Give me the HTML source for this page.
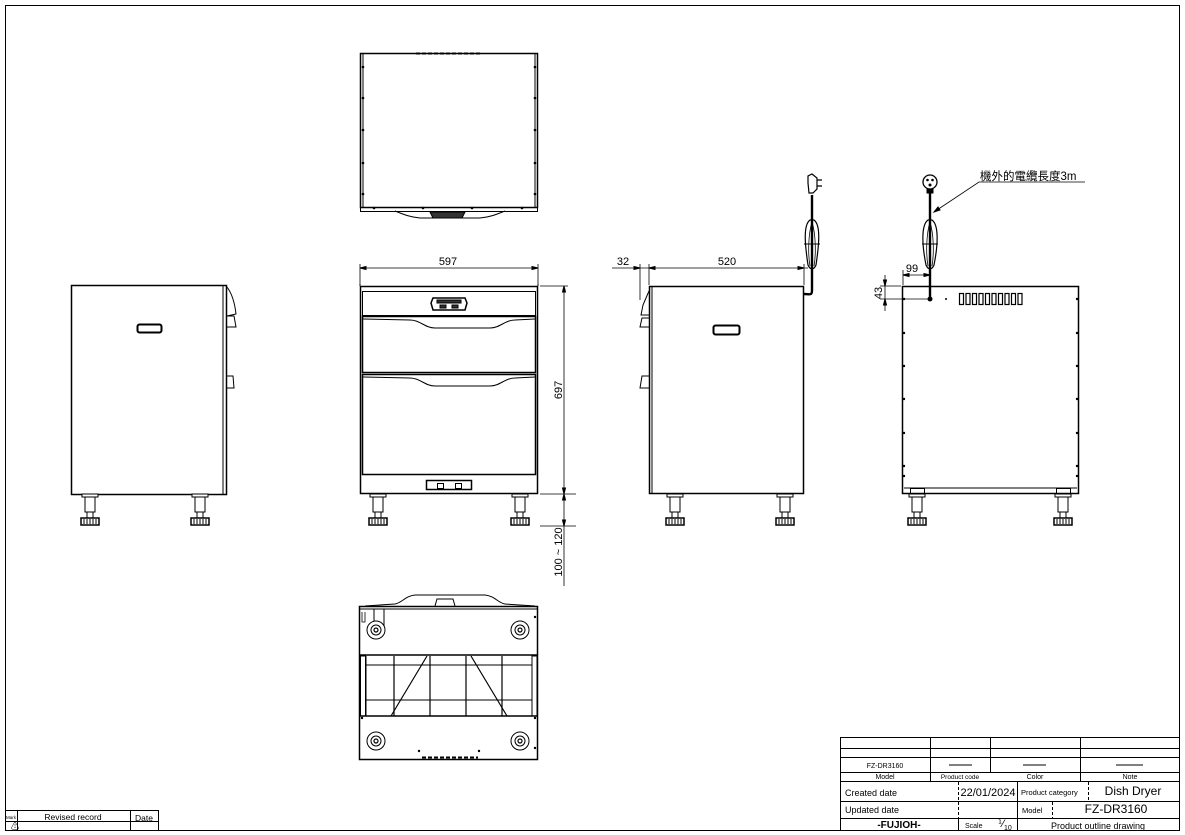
<!DOCTYPE html>
<html><head><meta charset="utf-8"><style>
html,body{margin:0;padding:0;background:#fff;}
svg{display:block;}
text{font-family:"Liberation Sans","Noto Sans CJK TC",sans-serif;fill:#000;}
</style></head><body>
<svg width="1185" height="835" viewBox="0 0 1185 835" xmlns="http://www.w3.org/2000/svg">
<defs>
<g id="leg">
  <rect x="-8" y="0" width="16" height="3" fill="#fff" stroke="#000" stroke-width="1"/>
  <rect x="-5" y="3" width="10" height="15" fill="#fff" stroke="#000" stroke-width="1"/>
  <rect x="-3" y="18" width="6" height="6" fill="#fff" stroke="#000" stroke-width="1"/>
  <rect x="-9" y="24" width="18" height="7" fill="#fff" stroke="#000" stroke-width="1.5"/>
  <path d="M-6 25v5M-3 25v5M0 25v5M3 25v5M6 25v5" stroke="#000" stroke-width="1"/>
</g>
<g id="caster">
  <circle r="9" fill="#fff" stroke="#000" stroke-width="1"/>
  <circle r="5" fill="none" stroke="#000" stroke-width="1"/>
  <circle r="2" fill="none" stroke="#000" stroke-width="1.2"/>
</g>
</defs>
<g fill="none" stroke="#000" stroke-width="1">
<!-- frame -->
<rect x="5.5" y="5.5" width="1174" height="825"/>

<!-- TOP VIEW -->
<rect x="360.5" y="53.5" width="177" height="154" stroke-width="1.5"/>
<line x1="363" y1="54" x2="363" y2="207"/><line x1="535" y1="54" x2="535" y2="207"/>
<line x1="416" y1="53.5" x2="480" y2="53.5" stroke-width="2" stroke-dasharray="4,2"/>
<rect x="360.5" y="207.5" width="177" height="4"/>
<path d="M395 211 C405 215,410 217,420 218 L480 218 C490 217,495 215,505 211"/>
<path d="M430 212 L465 212 L462 218 L433 218 Z" fill="#333"/>
<g fill="#000" stroke="none">
<circle cx="363" cy="67" r="1.3"/><circle cx="363" cy="98" r="1.3"/><circle cx="363" cy="130" r="1.3"/><circle cx="363" cy="163" r="1.3"/><circle cx="363" cy="194" r="1.3"/>
<circle cx="535" cy="67" r="1.3"/><circle cx="535" cy="98" r="1.3"/><circle cx="535" cy="130" r="1.3"/><circle cx="535" cy="163" r="1.3"/><circle cx="535" cy="194" r="1.3"/>
<circle cx="374" cy="208" r="1.3"/><circle cx="423" cy="208" r="1.3"/><circle cx="472" cy="208" r="1.3"/><circle cx="522" cy="208" r="1.3"/>
</g>

<!-- LEFT VIEW -->
<rect x="71.5" y="285.5" width="155" height="209" stroke-width="1.5"/>
<line x1="223" y1="286" x2="223" y2="494"/>
<path d="M227 287 C233 295,235 305,236 314 L227 316"/>
<path d="M227 316 L234 316 L236 327 L227 327"/>
<path d="M227 376 L233 376 L234 388 L227 388"/>
<rect x="137.5" y="324.5" width="24" height="8" rx="2" stroke-width="2"/>
<use href="#leg" x="90" y="494"/><use href="#leg" x="200" y="494"/>

<!-- FRONT VIEW -->
<rect x="360.5" y="286.5" width="177" height="207" stroke-width="1.5"/>
<line x1="360" y1="284" x2="360" y2="286"/><line x1="538" y1="284" x2="538" y2="286"/>
<rect x="362.5" y="291.5" width="173" height="24"/>
<rect x="362.5" y="316.5" width="173" height="56" stroke-width="1.5"/>
<path d="M363 319 L410 320 C420 320,425 328,435 328 L490 328 C500 328,505 320,515 320 L535 319"/>
<rect x="362.5" y="374.5" width="173" height="100" stroke-width="1.5"/>
<path d="M363 377 L410 378 C420 378,425 386,435 386 L490 386 C500 386,505 378,515 378 L535 377"/>
<path d="M433 298 L465 298 L467 303 L465 310 L433 310 L431 303 Z" stroke-width="1.5"/>
<rect x="437" y="300" width="24" height="3" fill="#333"/>
<rect x="440" y="305" width="6" height="3" fill="#333"/><rect x="452" y="305" width="6" height="3" fill="#333"/>
<rect x="426.5" y="480.5" width="45" height="9" stroke-width="1.5"/>
<rect x="437.5" y="483.5" width="6" height="5"/><rect x="455.5" y="483.5" width="6" height="5"/>
<use href="#leg" x="378" y="494"/><use href="#leg" x="520" y="494"/>
<!-- front dims -->
<line x1="360" y1="268" x2="538" y2="268" stroke-width="0.8"/>
<path d="M360 268 l6 -1.5 v3 z M538 268 l-6 -1.5 v3 z" fill="#000"/>
<line x1="360" y1="264" x2="360" y2="285" stroke-width="0.8"/><line x1="538" y1="264" x2="538" y2="285" stroke-width="0.8"/>
<line x1="540" y1="286" x2="568" y2="286" stroke-width="0.8"/>
<line x1="540" y1="494" x2="576" y2="494" stroke-width="0.8"/>
<line x1="540" y1="526" x2="576" y2="526" stroke-width="0.8"/>
<line x1="564" y1="286" x2="564" y2="494" stroke-width="0.8"/>
<line x1="564" y1="494" x2="564" y2="586" stroke-width="0.8"/>
<path d="M564 286 l-1.5 6 h3 z M564 494 l-1.5 -6 h3 z M564 494 l-1.5 6 h3z M564 526 l-1.5 -6 h3 z" fill="#000"/>

<!-- SIDE VIEW -->
<rect x="649.5" y="286.5" width="154" height="207" stroke-width="1.5"/>
<line x1="652" y1="287" x2="652" y2="493"/>
<path d="M649 291 L643 305 L641 315 L649 315"/>
<path d="M649 318 L642 318 L640 327 L649 327"/>
<path d="M649 376 L642 376 L640 388 L649 388"/>
<rect x="713.5" y="325.5" width="26" height="9" rx="2" stroke-width="2"/>
<use href="#leg" x="675" y="494"/><use href="#leg" x="785" y="494"/>
<!-- cord side -->
<path d="M804 294 C810 294,812 296,812 290 L812 195" stroke-width="2.4"/>
<path d="M812 195 L812 195" stroke-width="0.8"/>
<path d="M810 220 C803 225,805 245,808 265 C810 270,814 270,816 265 C819 245,821 225,814 220 Z" stroke-width="1.2"/>
<path d="M812 222 C808 235,808 255,810 266 M812 222 C816 235,816 255,814 266" stroke-width="0.8"/>
<line x1="804" y1="244" x2="820" y2="244"/>
<path d="M808 183 L808 176 L812 174 L817 178 L817 189 L813 193 L809 193 Z" stroke-width="1.2"/>
<path d="M817 180 h5 M817 186 h5" stroke-width="1.2"/>
<!-- side dims -->
<line x1="612" y1="268" x2="808" y2="268" stroke-width="0.8"/>
<line x1="640" y1="264" x2="640" y2="300" stroke-width="0.8"/>
<line x1="649" y1="264" x2="649" y2="285" stroke-width="0.8"/>
<line x1="804" y1="264" x2="804" y2="285" stroke-width="0.8"/>
<path d="M640 268 l-6 -1.5 v3 z M649 268 l6 -1.5 v3 z M804 268 l-6 -1.5 v3 z" fill="#000"/>

<!-- BACK VIEW -->
<rect x="902.5" y="286.5" width="176" height="207" stroke-width="1.5"/>
<line x1="904" y1="488" x2="1077" y2="488"/>
<g fill="none" stroke-width="1.2">
<rect x="959.5" y="293.5" width="4" height="11"/><rect x="966" y="293.5" width="4" height="11"/><rect x="972.5" y="293.5" width="4" height="11"/><rect x="979" y="293.5" width="4" height="11"/><rect x="985.5" y="293.5" width="4" height="11"/><rect x="992" y="293.5" width="4" height="11"/><rect x="998.5" y="293.5" width="4" height="11"/><rect x="1005" y="293.5" width="4" height="11"/><rect x="1011.5" y="293.5" width="4" height="11"/><rect x="1018" y="293.5" width="4" height="11"/>
</g>
<g fill="#000" stroke="none">
<circle cx="930" cy="299" r="2.5"/><circle cx="946" cy="299" r="1"/>
<circle cx="904" cy="299" r="1.2"/><circle cx="904" cy="333" r="1.2"/><circle cx="904" cy="366" r="1.2"/><circle cx="904" cy="399" r="1.2"/><circle cx="904" cy="433" r="1.2"/><circle cx="904" cy="466" r="1.2"/><circle cx="904" cy="476" r="1.2"/>
<circle cx="1077" cy="299" r="1.2"/><circle cx="1077" cy="333" r="1.2"/><circle cx="1077" cy="366" r="1.2"/><circle cx="1077" cy="399" r="1.2"/><circle cx="1077" cy="433" r="1.2"/><circle cx="1077" cy="466" r="1.2"/><circle cx="1077" cy="476" r="1.2"/>
</g>
<rect x="910.5" y="488.5" width="14" height="6"/><rect x="1056.5" y="488.5" width="14" height="6"/>
<use href="#leg" x="917" y="494"/><use href="#leg" x="1063" y="494"/>
<!-- back cord -->
<line x1="930" y1="190" x2="930" y2="298" stroke-width="2.4"/>
<path d="M928 220 C921 225,922 245,926 265 C928 270,932 270,934 265 C938 245,939 225,932 220 Z" stroke-width="1.2"/>
<path d="M930 222 C926 235,926 255,928 266 M930 222 C934 235,934 255,932 266" stroke-width="0.8"/>
<line x1="922" y1="244" x2="938" y2="244"/>
<circle cx="930" cy="182" r="7" stroke-width="1.3"/>
<rect x="927" y="189" width="6" height="4" fill="#000"/>
<circle cx="927.5" cy="180" r="0.8" fill="#000"/><circle cx="932.5" cy="180" r="0.8" fill="#000"/><circle cx="930" cy="185" r="1" fill="#000"/>
<path d="M1085 182 L979 182 L934 212" stroke-width="0.8"/>
<path d="M934 212 l4 -5 l2 3 z" fill="#000"/>
<!-- back dims -->
<line x1="903" y1="275" x2="930" y2="275" stroke-width="0.8"/>
<line x1="903" y1="270" x2="903" y2="285" stroke-width="0.8"/>
<path d="M903 275 l6 -1.5 v3 z M930 275 l-6 -1.5 v3 z" fill="#000"/>
<line x1="880" y1="286" x2="901" y2="286" stroke-width="0.8"/>
<line x1="880" y1="299" x2="928" y2="299" stroke-width="0.8"/>
<line x1="885" y1="275" x2="885" y2="311" stroke-width="0.8"/>
<path d="M885 286 l-1.5 -6 h3 z M885 299 l-1.5 6 h3 z" fill="#000"/>

<!-- BOTTOM VIEW -->
<rect x="359.5" y="606.5" width="178" height="153" stroke-width="1.5"/>
<path d="M365 606 L395 604 C402 603,405 596,415 595 L485 595 C495 596,498 603,505 604 L535 606"/>
<path d="M435 606 L437 599 L453 599 L455 606"/>
<line x1="360" y1="609" x2="537" y2="609"/>
<path d="M362 612 v10 h3 v-10" stroke-width="0.8"/>
<line x1="374" y1="609" x2="374" y2="627"/><line x1="384" y1="609" x2="384" y2="627"/>
<use href="#caster" x="376" y="630"/><use href="#caster" x="520" y="630"/>
<use href="#caster" x="376" y="741"/><use href="#caster" x="520" y="741"/>
<line x1="360" y1="655" x2="537" y2="655" stroke-width="1.5"/>
<line x1="360" y1="716" x2="537" y2="716" stroke-width="1.5"/>
<line x1="366" y1="665" x2="532" y2="665"/><line x1="366" y1="700" x2="532" y2="700"/>
<rect x="360.5" y="656" width="5" height="60"/><rect x="532" y="656" width="5" height="60"/>
<line x1="366" y1="656" x2="366" y2="716"/><line x1="532" y1="656" x2="532" y2="716"/>
<line x1="394" y1="656" x2="394" y2="716" stroke-width="1.2"/>
<line x1="430" y1="656" x2="430" y2="716" stroke-width="1.2"/>
<line x1="466" y1="656" x2="466" y2="716" stroke-width="1.2"/>
<line x1="502" y1="656" x2="502" y2="716" stroke-width="1.2"/>
<line x1="427" y1="656" x2="391" y2="716" stroke-width="1.2"/>
<line x1="471" y1="656" x2="507" y2="716" stroke-width="1.2"/>
<line x1="422" y1="757.5" x2="478" y2="757.5" stroke-width="2" stroke-dasharray="4,2"/>
<g fill="#000" stroke="none">
<circle cx="419" cy="751" r="1.2"/><circle cx="479" cy="751" r="1.2"/>
<circle cx="535" cy="617" r="1.2"/><circle cx="535" cy="748" r="1.2"/><circle cx="362" cy="718" r="1.2"/><circle cx="535" cy="718" r="1.2"/>
</g>

<!-- REVISED RECORD -->
<path d="M5.5 810.5 H158.5 V830 M130.5 810.5 V830 M17.5 810.5 V830 M5.5 821.5 H158.5" stroke-width="1"/>

<!-- TITLE BLOCK -->
<rect x="840.5" y="737.5" width="339" height="93"/>
<line x1="840" y1="748.5" x2="1180" y2="748.5"/>
<line x1="840" y1="757.5" x2="1180" y2="757.5"/>
<line x1="840" y1="772.5" x2="1180" y2="772.5"/>
<line x1="840" y1="781.5" x2="1180" y2="781.5"/>
<line x1="840" y1="801.5" x2="1180" y2="801.5"/>
<line x1="840" y1="818.5" x2="1180" y2="818.5"/>
<line x1="930.5" y1="737" x2="930.5" y2="781"/>
<line x1="990.5" y1="737" x2="990.5" y2="772"/>
<line x1="1080.5" y1="737" x2="1080.5" y2="781"/>
<line x1="958.5" y1="782" x2="958.5" y2="818" stroke-dasharray="3,2"/>
<line x1="958.5" y1="818" x2="958.5" y2="830"/>
<line x1="1017.5" y1="782" x2="1017.5" y2="830"/>
<line x1="1088.5" y1="782" x2="1088.5" y2="801" stroke-dasharray="3,2"/>
<line x1="1052.5" y1="802" x2="1052.5" y2="818" stroke-dasharray="3,2"/>
<line x1="949" y1="765" x2="972" y2="765"/>
<line x1="1023" y1="765" x2="1046" y2="765"/>
<line x1="1116" y1="765" x2="1143" y2="765"/>
</g>

<!-- TEXT -->
<g font-size="11">
<text x="448" y="265" text-anchor="middle">597</text>
<text x="623" y="265" text-anchor="middle">32</text>
<text x="727" y="265" text-anchor="middle">520</text>
<text x="912" y="272" text-anchor="middle">99</text>
<text transform="translate(562,390) rotate(-90)" text-anchor="middle">697</text>
<text transform="translate(562,552) rotate(-90)" text-anchor="middle">100 ~ 120</text>
<text transform="translate(882,293) rotate(-90)" text-anchor="middle">43</text>
<text x="980" y="180" font-size="11.5">機外的電纜長度3m</text>
</g>
<g font-size="7">
<text x="885" y="768" text-anchor="middle">FZ-DR3160</text>
<text x="885" y="779" text-anchor="middle">Model</text>
<text x="960" y="779" text-anchor="middle" font-size="6.5">Product code</text>
<text x="1035" y="779" text-anchor="middle">Color</text>
<text x="1130" y="779" text-anchor="middle">Note</text>
<text x="6" y="819" font-size="4.5">Mark</text>
<text x="73" y="820" text-anchor="middle" font-size="8.5">Revised record</text>
<text x="144" y="821" text-anchor="middle" font-size="8.5">Date</text>
<text x="1021" y="795" font-size="7.5">Product category</text>
<text x="1022" y="813" font-size="7.5">Model</text>
<text x="965" y="828" font-size="7">Scale</text>
</g>
<text x="11" y="829" font-size="8">⚠</text>
<text x="845" y="796" font-size="9">Created date</text>
<text x="845" y="813" font-size="9">Updated date</text>
<text x="988" y="796" font-size="11" text-anchor="middle">22/01/2024</text>
<text x="1133" y="795" font-size="12" text-anchor="middle">Dish Dryer</text>
<text x="1116" y="813" font-size="12" text-anchor="middle">FZ-DR3160</text>
<text x="899" y="828" font-size="10" font-weight="bold" text-anchor="middle">-FUJIOH-</text>
<text x="998" y="827" font-size="10">⅟</text><text x="1004" y="830" font-size="7">10</text>
<text x="1098" y="829" font-size="9" text-anchor="middle">Product outline drawing</text>
</svg>
</body></html>
